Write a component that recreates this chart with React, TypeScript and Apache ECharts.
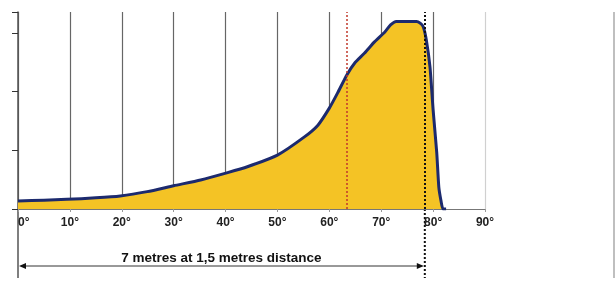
import React, { useEffect, useRef } from "react";
import * as echarts from "echarts";

const angles = [0, 5, 9.4, 15, 19.7, 24.9, 30, 35.2, 40.4, 44.2, 50, 55.2, 57.8, 60, 61.6, 63.4, 64.9, 66.8, 68.7, 70.7, 71.8, 72.9, 76.8, 77.5, 78.1, 78.7, 79.4, 80.0, 80.7, 81.1, 81.5, 81.9, 82.5];
const values = [1.37, 1.5, 1.65, 1.9, 2.22, 2.96, 3.97, 4.95, 6.2, 7.2, 9.2, 12.3, 14.3, 17.2, 19.8, 22.9, 24.9, 26.6, 28.5, 30.2, 31.4, 32.0, 32.0, 31.7, 31.1, 28.8, 24.2, 16.9, 9.6, 3.75, 1.5, 0, 0];
const xTicks = [0, 10, 20, 30, 40, 50, 60, 70, 80, 90];
const redLineAt = 63.4;
const blackLineAt = 78.4;
const caption = "7 metres at 1,5 metres distance";

export default function App() {
  const ref = useRef<HTMLDivElement>(null);
  useEffect(() => {
    document.body.style.margin = "0";
    const chart = echarts.init(ref.current!, null, { renderer: "svg" });
    const data = angles.map((a, i) => [a, values[i]]);
    const font = '"Liberation Sans", Arial, sans-serif';
    chart.setOption({
      animation: false,
      grid: { left: 18, right: 130, top: 12, bottom: 72 },
      xAxis: {
        type: "value",
        min: 0,
        max: 90,
        interval: 10,
        axisLine: { show: true, lineStyle: { color: "#777", width: 1 } },
        axisTick: { show: true, length: 3, lineStyle: { color: "#999" } },
        axisLabel: {
          margin: 7,
          fontFamily: font,
          fontWeight: "bold",
          fontSize: 12,
          color: "#222",
          alignMinLabel: "left",
          formatter: (v: number) => (xTicks.includes(v) ? v + "°" : ""),
        },
        splitLine: {
          show: true,
          lineStyle: {
            color: ["#666", "#666", "#666", "#666", "#666", "#666", "#666", "#666", "#666", "#d0d0d0"],
            width: 1.2,
          },
        },
      },
      yAxis: {
        type: "value",
        min: 0,
        max: 33.6,
        interval: 10,
        axisLine: { show: true, lineStyle: { color: "#555", width: 1.5 } },
        axisTick: { show: true, length: 6, lineStyle: { color: "#333" } },
        axisLabel: { show: false },
        splitLine: { show: false },
      },
      series: [
        {
          type: "line",
          data,
          showSymbol: false,
          symbol: "none",
          smooth: 0.2,
          lineStyle: { color: "#1c2a6e", width: 3, join: "round" },
          areaStyle: { color: "#F4C325", opacity: 1 },
          z: 3,
          markLine: {
            silent: true,
            symbol: "none",
            label: { show: false },
            data: [
              { xAxis: redLineAt, lineStyle: { color: "#c0392b", type: [2, 2], width: 1.5 } },
              { xAxis: blackLineAt, lineStyle: { color: "#111", type: [2, 2], width: 2 } },
            ],
          },
        },
      ],
    });
    const p0 = chart.convertToPixel({ gridIndex: 0 }, [0, 0]) as number[];
    const pb = chart.convertToPixel({ gridIndex: 0 }, [blackLineAt, 0]) as number[];
    const ptop = chart.convertToPixel({ gridIndex: 0 }, [0, 33.6]) as number[];
    const bottom = 278;
    const arrowY = 266;
    chart.setOption({
      graphic: [
        { type: "line", shape: { x1: p0[0], y1: p0[1], x2: p0[0], y2: bottom }, style: { stroke: "#555", lineWidth: 1.5 } },
        { type: "line", shape: { x1: pb[0], y1: pb[1], x2: pb[0], y2: bottom }, style: { stroke: "#111", lineWidth: 2, lineDash: [2, 2] } },
        { type: "line", shape: { x1: p0[0] + 4, y1: arrowY, x2: pb[0] - 4, y2: arrowY }, style: { stroke: "#333", lineWidth: 1 } },
        { type: "polygon", shape: { points: [[p0[0] + 1, arrowY], [p0[0] + 8, arrowY - 3], [p0[0] + 8, arrowY + 3]] }, style: { fill: "#111" } },
        { type: "polygon", shape: { points: [[pb[0] - 1, arrowY], [pb[0] - 8, arrowY - 3], [pb[0] - 8, arrowY + 3]] }, style: { fill: "#111" } },
        {
          type: "text",
          x: (p0[0] + pb[0]) / 2,
          y: 257,
          style: { text: caption, fill: "#111", font: `bold 13.5px ${font}`, align: "center", verticalAlign: "middle" },
        },
        { type: "line", shape: { x1: 614, y1: ptop[1], x2: 614, y2: bottom }, style: { stroke: "#aaa", lineWidth: 1.5 } },
      ],
    });
    return () => chart.dispose();
  }, []);
  return <div ref={ref} style={{ position: "fixed", left: 0, top: 0, width: 615, height: 281 }} />;
}
